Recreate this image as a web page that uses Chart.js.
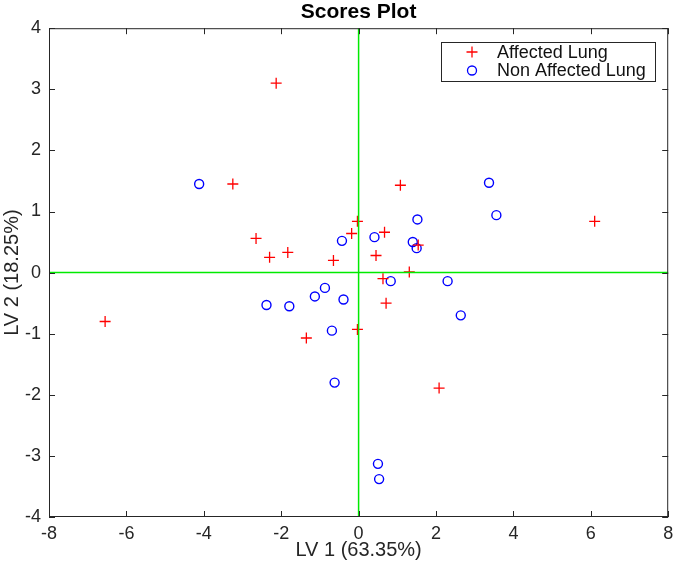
<!DOCTYPE html>
<html><head><meta charset="utf-8">
<script src="https://cdn.jsdelivr.net/npm/chart.js@4/dist/chart.umd.min.js"></script>
<style>html,body{margin:0;padding:0;background:#fff}#wrap{width:675px;height:566px}</style>
</head><body><div id="wrap"><canvas id="c" width="675" height="566"></canvas></div>
<script>
const titleText = "Scores Plot";
const xAxisLabel = "LV 1 (63.35%)";
const yAxisLabel = "LV 2 (18.25%)";
const seriesNames = ["Affected Lung", "Non Affected Lung"];
const affectedX = [-3.25, 1.08, -0.03, -2.65, -0.18, 0.67, -2.30, -1.83, -0.65, 0.45, 1.54, 1.31, 0.63, 0.71, -0.03, -1.35, -2.13, -6.55, 6.10, 2.08];
const affectedY = [1.45, 1.43, 0.84, 0.56, 0.64, 0.66, 0.25, 0.33, 0.20, 0.28, 0.45, 0.01, -0.10, -0.50, -0.93, -1.07, 3.10, -0.80, 0.84, -1.89];
const nonAffectedX = [-0.43, 0.41, 1.52, 1.40, 1.50, 0.83, 2.30, 2.64, -0.87, -1.13, -0.39, -2.38, -1.79, -0.69, -4.12, 3.37, 3.56, -0.62, 0.50, 0.53];
const nonAffectedY = [0.52, 0.58, 0.87, 0.50, 0.40, -0.14, -0.14, -0.70, -0.25, -0.39, -0.44, -0.53, -0.55, -0.95, 1.45, 1.47, 0.94, -1.80, -3.13, -3.38];
const xTicks = [-8, -6, -4, -2, 0, 2, 4, 6, 8];
const yTicks = [-4, -3, -2, -1, 0, 1, 2, 3, 4];

const axisColor = '#262626';
const FONT = 'Liberation Sans, Arial, Helvetica, sans-serif';

const toPoints = (xs, ys) => xs.map((x, i) => ({x: x, y: ys[i]}));

const boxPlugin = {
  id: 'matlabBox',
  afterDatasetsDraw(chart) {
    const {ctx, chartArea: a, scales: {x, y}} = chart;
    ctx.save();
    // green origin lines
    ctx.strokeStyle = 'rgb(0,235,0)';
    ctx.lineWidth = 1.5;
    const x0 = x.getPixelForValue(0), y0 = y.getPixelForValue(0);
    ctx.beginPath();
    ctx.moveTo(x0, a.top); ctx.lineTo(x0, a.bottom);
    ctx.moveTo(a.left, y0); ctx.lineTo(a.right, y0);
    ctx.stroke();
    // box and inward ticks
    ctx.strokeStyle = axisColor;
    ctx.lineWidth = 1;
    ctx.strokeRect(a.left + 0.5, a.top + 0.5, a.right - a.left - 1, a.bottom - a.top - 1);
    const tl = 6;
    ctx.beginPath();
    xTicks.forEach(v => {
      const p = Math.round(x.getPixelForValue(v)) + 0.5;
      ctx.moveTo(p, a.bottom); ctx.lineTo(p, a.bottom - tl);
      ctx.moveTo(p, a.top); ctx.lineTo(p, a.top + tl);
    });
    yTicks.forEach(v => {
      const p = Math.round(y.getPixelForValue(v)) + 0.5;
      ctx.moveTo(a.left, p); ctx.lineTo(a.left + tl, p);
      ctx.moveTo(a.right, p); ctx.lineTo(a.right - tl, p);
    });
    ctx.stroke();
    // legend
    const lx = 441, ly = 42, lw = 214, lh = 39;
    ctx.fillStyle = '#fff';
    ctx.fillRect(lx, ly, lw, lh);
    ctx.strokeRect(lx + 0.5, ly + 0.5, lw, lh);
    const ds = chart.data.datasets;
    const rows = [52, 70.5];
    ds.forEach((d, i) => {
      const cy = rows[i], cx = 472;
      ctx.strokeStyle = d.borderColor;
      ctx.lineWidth = 1.3;
      ctx.beginPath();
      if (d.pointStyle === 'cross') {
        ctx.moveTo(cx - 5.5, cy); ctx.lineTo(cx + 5.5, cy);
        ctx.moveTo(cx, cy - 5.5); ctx.lineTo(cx, cy + 5.5);
      } else {
        ctx.arc(cx, cy, 4.5, 0, Math.PI * 2);
      }
      ctx.stroke();
      ctx.fillStyle = '#111';
      ctx.font = '18px ' + FONT;
      ctx.textBaseline = 'middle';
      ctx.textAlign = 'left';
      ctx.fillText(d.label, 497, cy + 1);
    });
    ctx.restore();
  }
};

new Chart(document.getElementById('c'), {
  type: 'scatter',
  data: {
    datasets: [
      {label: seriesNames[0], data: toPoints(affectedX, affectedY), pointStyle: 'cross', pointRadius: 5.5, pointHoverRadius: 5.5, borderColor: '#ff0000', backgroundColor: 'transparent', pointBorderWidth: 1.3},
      {label: seriesNames[1], data: toPoints(nonAffectedX, nonAffectedY), pointStyle: 'circle', pointRadius: 4.5, pointHoverRadius: 4.5, borderColor: '#0000ff', backgroundColor: 'transparent', pointBorderWidth: 1.4}
    ]
  },
  options: {
    responsive: false, animation: false, devicePixelRatio: 1,
    layout: {padding: {top: 0, right: 6, left: 0, bottom: 0}},
    plugins: {
      legend: {display: false},
      tooltip: {enabled: false},
      title: {display: true, fullSize: false, text: titleText, color: '#000', font: {family: FONT, size: 21, weight: 'bold'}, padding: {top: 0, bottom: 3}}
    },
    scales: {
      x: {
        type: 'linear', min: -8, max: 8,
        afterBuildTicks: s => { s.ticks = xTicks.map(v => ({value: v})); },
        afterFit: s => { s.height = 49; s.paddingLeft = 0; s.paddingRight = 0; },
        ticks: {color: axisColor, font: {family: FONT, size: 18}, padding: 6, maxRotation: 0},
        grid: {display: true, drawOnChartArea: false, drawTicks: false},
        border: {display: false},
        title: {display: true, text: xAxisLabel, color: axisColor, font: {family: FONT, size: 20}, padding: {top: 0, bottom: 4}}
      },
      y: {
        type: 'linear', min: -4, max: 4,
        afterBuildTicks: s => { s.ticks = yTicks.map(v => ({value: v})); },
        afterFit: s => { s.width = 49; s.paddingTop = 0; s.paddingBottom = 0; },
        ticks: {color: axisColor, font: {family: FONT, size: 18}, padding: 8},
        grid: {display: true, drawOnChartArea: false, drawTicks: false},
        border: {display: false},
        title: {display: true, text: yAxisLabel, color: axisColor, font: {family: FONT, size: 20}, padding: {top: 0, bottom: 0}}
      }
    }
  },
  plugins: [boxPlugin]
});
</script></body></html>
